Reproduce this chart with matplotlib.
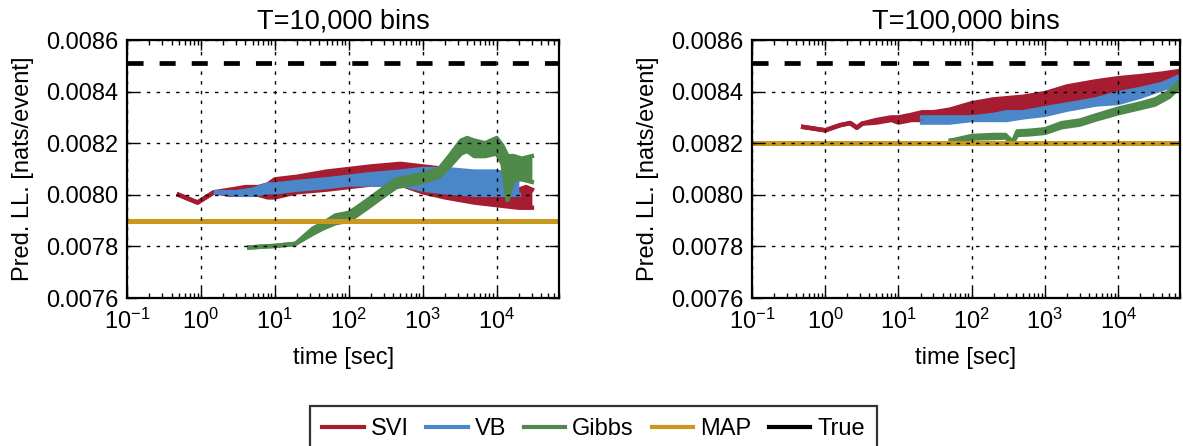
import matplotlib
matplotlib.use("Agg")
import matplotlib.pyplot as plt
from matplotlib.lines import Line2D
from matplotlib.ticker import FormatStrFormatter, LogLocator

plt.rcParams["font.family"] = ["Liberation Sans", "DejaVu Sans"]
plt.rcParams["mathtext.fontset"] = "custom"
plt.rcParams["mathtext.rm"] = "Liberation Sans"
plt.rcParams["axes.unicode_minus"] = False

COLORS = {"SVI": "#a61c30", "VB": "#4a86c8", "Gibbs": "#4f8a4b",
          "MAP": "#c9991d", "True": "black"}
TITLES = ["T=10,000 bins", "T=100,000 bins"]

# ---- T=10,000 bins (left) : lower / upper envelope of each noisy trace ----
svi_x_10k = [0.5, 0.9, 1.5, 2.5, 4, 6, 8, 10, 20, 50, 100, 200, 500, 1000,
             2000, 5000, 10000, 20000, 25000, 30000]
svi_lo_10k = [0.00800, 0.00797, 0.00801, 0.00800, 0.00800, 0.00800, 0.00799,
              0.00799, 0.00801, 0.00802, 0.00803, 0.00804, 0.00804, 0.00801,
              0.00799, 0.00797, 0.00796, 0.00795, 0.00795, 0.00795]
svi_hi_10k = [0.00800, 0.00797, 0.00801, 0.00802, 0.00803, 0.00803, 0.00804,
              0.00806, 0.00807, 0.00809, 0.00810, 0.00811, 0.00812, 0.00811,
              0.00810, 0.00806, 0.00805, 0.00802, 0.00803, 0.00802]

vb_x_10k = [1.6, 3, 5, 8, 10, 20, 50, 100, 200, 500, 1000, 2000, 5000,
            10000, 15000, 20000]
vb_lo_10k = [0.00801, 0.00800, 0.00800, 0.00801, 0.00801, 0.00802, 0.00803,
             0.00804, 0.00804, 0.00804, 0.00802, 0.00801, 0.00800, 0.00800,
             0.00800, 0.00800]
vb_hi_10k = [0.00801, 0.00801, 0.00802, 0.00804, 0.00804, 0.00805, 0.00806,
             0.00807, 0.00808, 0.00809, 0.00810, 0.00810, 0.00809, 0.00809,
             0.00808, 0.00808]

gibbs_x_10k = [4.5, 10, 19, 25, 33, 45, 66, 100, 128, 180, 250, 350, 440,
               680, 1000, 1660, 2300, 3300, 4000, 5000, 7000, 10000, 12000,
               14000, 17000, 22000, 30000]
gibbs_lo_10k = [0.007796, 0.007802, 0.00781, 0.00783, 0.00785, 0.00787,
                0.00789, 0.00790, 0.00792, 0.00795, 0.00798, 0.00801,
                0.00803, 0.00804, 0.00805, 0.00807, 0.00811, 0.00816,
                0.00817, 0.00815, 0.00815, 0.00816, 0.00812, 0.00798,
                0.00806, 0.00806, 0.00805]
gibbs_hi_10k = [0.007796, 0.007802, 0.00781, 0.00784, 0.00787, 0.00789,
                0.00792, 0.00793, 0.00795, 0.00798, 0.00801, 0.00804,
                0.00806, 0.00807, 0.00808, 0.00810, 0.00815, 0.00821,
                0.00822, 0.00821, 0.00820, 0.00822, 0.00819, 0.00815,
                0.00815, 0.00814, 0.00815]

map_10k = 0.00790
true_10k = 0.00851

# ---- T=100,000 bins (right) ----
svi_x_100k = [0.5, 1, 1.6, 2.2, 2.7, 3.2, 5, 8, 10, 15, 21, 30, 50, 100, 200,
              500, 1000, 2000, 5000, 10000, 20000, 40000, 70000]
svi_lo_100k = [0.008263, 0.00825, 0.00827, 0.008278, 0.00826, 0.008276,
               0.00828, 0.00829, 0.00828, 0.00829, 0.00829, 0.00829, 0.00830,
               0.00830, 0.00831, 0.00832, 0.008324, 0.00834, 0.00837,
               0.00840, 0.00842, 0.00844, 0.00845]
svi_hi_100k = [0.008263, 0.00825, 0.00827, 0.008278, 0.00826, 0.008276,
               0.00829, 0.00830, 0.00830, 0.00831, 0.00832, 0.00832, 0.00833,
               0.008355, 0.00837, 0.00838, 0.008394, 0.00842, 0.00844,
               0.008452, 0.00846, 0.00847, 0.00848]

vb_x_100k = [21, 30, 50, 100, 200, 300, 500, 1000, 2000, 5000, 10000, 20000,
             40000, 70000]
vb_lo_100k = [0.00828, 0.00828, 0.00828, 0.00829, 0.00829, 0.00829, 0.00830,
              0.00831, 0.00833, 0.00835, 0.008356, 0.00838, 0.00841, 0.00843]
vb_hi_100k = [0.00830, 0.00830, 0.00830, 0.00830, 0.00831, 0.00832, 0.00832,
              0.008336, 0.00835, 0.00837, 0.008394, 0.00841, 0.00843, 0.00846]

gibbs_x_100k = [52, 100, 200, 288, 364, 420, 600, 1000, 1700, 3000, 5000,
                10000, 20000, 32000, 50000, 70000]
gibbs_lo_100k = [0.00821, 0.008218, 0.00822, 0.008222, 0.008204, 0.008232,
                 0.008234, 0.00824, 0.008262, 0.008272, 0.008292, 0.008316,
                 0.008336, 0.00835, 0.00838, 0.00842]
gibbs_hi_100k = [0.00821, 0.008228, 0.008232, 0.008232, 0.008204, 0.008246,
                 0.008248, 0.008254, 0.008278, 0.008288, 0.008308, 0.008334,
                 0.008354, 0.00837, 0.0084, 0.00844]

map_100k = 0.00820
true_100k = 0.00851

panels = [
    (svi_x_10k, svi_lo_10k, svi_hi_10k, vb_x_10k, vb_lo_10k, vb_hi_10k,
     gibbs_x_10k, gibbs_lo_10k, gibbs_hi_10k, map_10k, true_10k),
    (svi_x_100k, svi_lo_100k, svi_hi_100k, vb_x_100k, vb_lo_100k, vb_hi_100k,
     gibbs_x_100k, gibbs_lo_100k, gibbs_hi_100k, map_100k, true_100k),
]

fig = plt.figure(figsize=(11.83, 4.46), dpi=100)
axes = [fig.add_axes([0.1074, 0.3318, 0.3652, 0.5785]),
        fig.add_axes([0.6357, 0.3318, 0.3618, 0.5785])]


def band(ax, x, lo, hi, color, z):
    # filled envelope plus edge strokes so thin parts keep their width
    ax.fill_between(x, lo, hi, color=color, lw=0, zorder=z)
    ax.plot(x, lo, color=color, lw=3.2, zorder=z)
    ax.plot(x, hi, color=color, lw=3.2, zorder=z)


for ax, title, p in zip(axes, TITLES, panels):
    (sx, slo, shi, vx, vlo, vhi, gx, glo, ghi, map_val, true_val) = p
    band(ax, sx, slo, shi, COLORS["SVI"], 2.0)
    band(ax, vx, vlo, vhi, COLORS["VB"], 2.1)
    band(ax, gx, glo, ghi, COLORS["Gibbs"], 2.2)
    ax.axhline(map_val, color=COLORS["MAP"], lw=3.6, zorder=2.3)
    ax.axhline(true_val, color=COLORS["True"], lw=3.4, dashes=(3.4, 3.4),
               zorder=2.4)

    ax.set_xscale("log")
    ax.set_xlim(0.1, 7e4)
    ax.set_ylim(0.0076, 0.0086)
    ax.set_yticks([0.0076, 0.0078, 0.0080, 0.0082, 0.0084, 0.0086])
    ax.yaxis.set_major_formatter(FormatStrFormatter("%.4f"))
    ax.xaxis.set_major_locator(LogLocator(base=10, numticks=10))
    ax.set_axisbelow(False)
    ax.grid(True, which="major", color="black", lw=1.0,
            linestyle=(0, (2.5, 4.5)))
    ax.tick_params(which="both", direction="in", top=True, right=True,
                   labelsize=17, width=1.0)
    ax.tick_params(which="major", length=7)
    ax.tick_params(which="minor", length=3.5)
    ax.tick_params(axis="x", which="major", pad=8)
    ax.tick_params(axis="y", which="major", pad=6)
    ax.yaxis.set_minor_locator(plt.NullLocator())
    for s in ax.spines.values():
        s.set_linewidth(1.6)
    ax.set_title(title, fontsize=19.5, pad=8)
    ax.set_xlabel("time [sec]", fontsize=17, labelpad=9)
    ax.set_ylabel("Pred. LL. [nats/event]", fontsize=17, labelpad=9)

handles = [Line2D([], [], color=COLORS[k], lw=3) for k in COLORS]
leg = fig.legend(handles, list(COLORS.keys()), loc="upper center",
                 bbox_to_anchor=(0.5017, 0.0897), ncol=5, fontsize=17,
                 frameon=True, fancybox=False, handlelength=1.75,
                 handletextpad=0.3, columnspacing=0.75, borderpad=0.5,
                 borderaxespad=0)
leg.get_frame().set_edgecolor("black")
leg.get_frame().set_linewidth(1.6)

fig.savefig("out.png", dpi=100)
